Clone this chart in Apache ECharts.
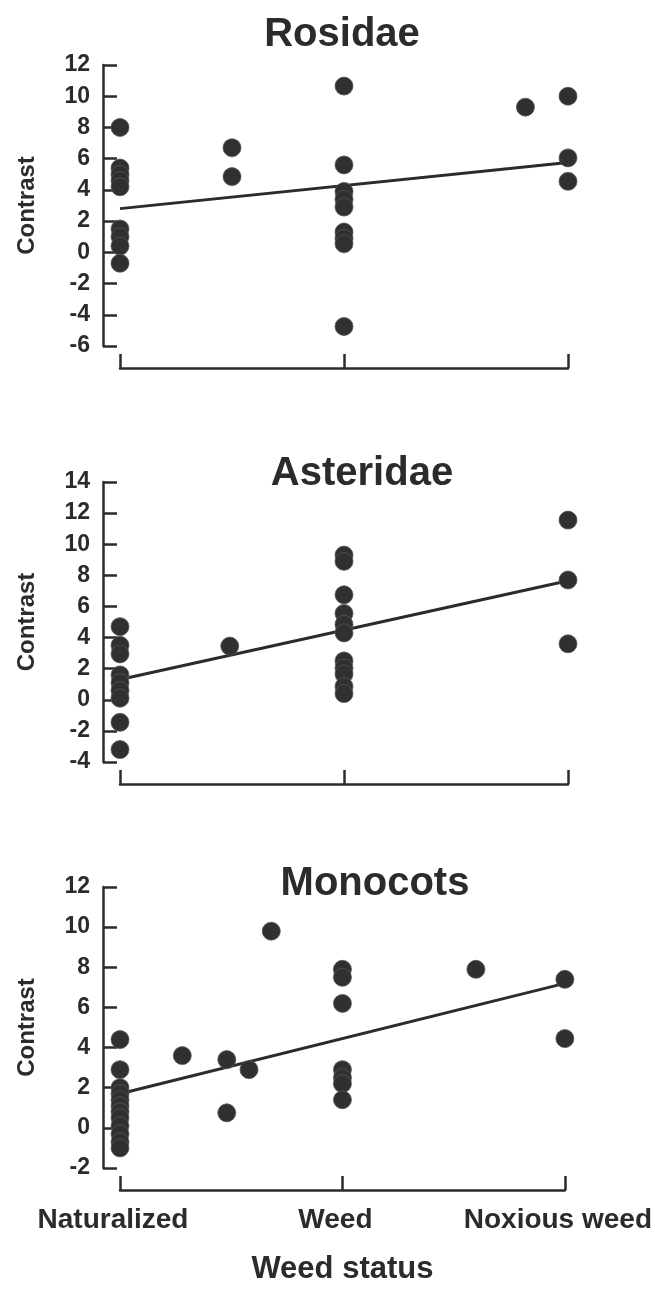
<!DOCTYPE html>
<html>
<head>
<meta charset="utf-8">
<script src="https://cdn.jsdelivr.net/npm/echarts@6/dist/echarts.min.js"></script>
<style>
html,body{margin:0;padding:0;background:#fff;}
#chart{width:655px;height:1291px;}
</style>
</head>
<body>
<div id="chart"></div>
<script>
// ---- data ----
const panelTitles = ['Rosidae', 'Asteridae', 'Monocots'];
const xCategories = ['Naturalized', 'Weed', 'Noxious weed'];
const xAxisTitle = 'Weed status';
const yAxisTitle = 'Contrast';

const rosidaeX = [0,0,0,0,0,0,0,0,0, 0.5,0.5, 1,1,1,1,1,1,1,1,1, 1.81, 2,2,2];
const rosidaeY = [8.0,5.4,5.0,4.6,4.2,1.5,1.0,0.4,-0.7, 6.7,4.85, 10.65,5.6,3.9,3.4,2.9,1.3,0.9,0.55,-4.75, 9.3, 10.0,6.05,4.55];
const rosidaeFit = [[0, 2.8], [2, 5.75]];

const asteridaeX = [0,0,0,0,0,0,0,0,0, 0.49, 1,1,1,1,1,1,1,1,1,1,1, 2,2,2];
const asteridaeY = [4.7,3.5,2.95,1.6,1.1,0.6,0.1,-1.45,-3.2, 3.45, 9.3,8.9,6.75,5.55,4.85,4.3,2.5,2.05,1.65,0.85,0.4, 11.55,7.7,3.6];
const asteridaeFit = [[0, 1.3], [2, 7.65]];

const monocotsX = [0,0,0,0,0,0,0,0,0,0,0,0, 0.28, 0.48,0.48, 0.58, 0.68, 1,1,1,1,1,1,1, 1.6, 2,2];
const monocotsY = [4.4,2.9,2.0,1.7,1.4,1.1,0.8,0.5,0.1,-0.3,-0.7,-1.0, 3.6, 3.4,0.75, 2.9, 9.8, 7.9,7.5,6.2,2.9,2.5,2.2,1.4, 7.9, 7.4,4.45];
const monocotsFit = [[0, 1.7], [2, 7.2]];

const yMins = [-6, -4, -2];
const yMaxs = [12, 14, 12];

// ---- layout ----
const ink = '#2b2b2b';
const grids = [
  {left: 120, right: 87, top: 65, height: 281},
  {left: 120, right: 87, top: 482, height: 280},
  {left: 120, right: 87, top: 887, height: 281}
];
const titlePos = [{x: 337, y: 10}, {x: 357, y: 449}, {x: 370, y: 859}];

const xs = [rosidaeX, asteridaeX, monocotsX];
const ys = [rosidaeY, asteridaeY, monocotsY];
const fits = [rosidaeFit, asteridaeFit, monocotsFit];

const option = {
  backgroundColor: '#fff',
  animation: false,
  title: panelTitles.map((t, i) => ({
    text: t, left: titlePos[i].x, top: titlePos[i].y, textAlign: 'center',
    textStyle: {fontFamily: 'Liberation Sans, Arial, sans-serif', fontSize: 40, fontWeight: 'bold', color: ink}
  })),
  grid: grids,
  xAxis: grids.map((g, i) => ({
    type: 'value', gridIndex: i, min: 0, max: 2, interval: 1, offset: 22,
    axisLine: {show: true, onZero: false, lineStyle: {color: ink, width: 2.5}},
    axisTick: {show: true, inside: true, length: 14, lineStyle: {color: ink, width: 2.5}},
    splitLine: {show: false},
    axisLabel: {
      show: i === 2, margin: 16, padding: [0, 14, 0, 0],
      fontFamily: 'Liberation Sans, Arial, sans-serif', fontSize: 28, fontWeight: 'bold', color: ink,
      formatter: v => xCategories[Math.round(v)]
    },
    name: i === 2 ? xAxisTitle : '', nameLocation: 'middle', nameGap: 64,
    nameTextStyle: {fontFamily: 'Liberation Sans, Arial, sans-serif', fontSize: 31, fontWeight: 'bold', color: ink}
  })),
  yAxis: grids.map((g, i) => ({
    type: 'value', gridIndex: i, min: yMins[i], max: yMaxs[i], interval: 2, offset: 17,
    axisLine: {show: true, onZero: false, lineStyle: {color: ink, width: 2.5}},
    axisTick: {show: true, inside: true, length: 14, lineStyle: {color: ink, width: 2.5}},
    splitLine: {show: false},
    axisLabel: {margin: 13, fontFamily: 'Liberation Sans, Arial, sans-serif', fontSize: 23, fontWeight: 'bold', color: ink},
    name: yAxisTitle, nameLocation: 'middle', nameRotate: 90, nameGap: 64,
    nameTextStyle: {fontFamily: 'Liberation Sans, Arial, sans-serif', fontSize: 24, fontWeight: 'bold', color: ink}
  })),
  series: []
};

for (let i = 0; i < 3; i++) {
  option.series.push({
    type: 'line', xAxisIndex: i, yAxisIndex: i, data: fits[i],
    symbol: 'none', lineStyle: {color: ink, width: 3}, z: 2
  });
  option.series.push({
    type: 'scatter', xAxisIndex: i, yAxisIndex: i,
    data: xs[i].map((x, k) => [x, ys[i][k]]),
    symbol: 'circle', symbolSize: 18, clip: false,
    itemStyle: {color: '#303030', borderColor: '#555', borderWidth: 0.8, opacity: 1}, z: 3
  });
}

const chart = echarts.init(document.getElementById('chart'), null, {renderer: 'canvas'});
chart.setOption(option);
</script>
</body>
</html>
